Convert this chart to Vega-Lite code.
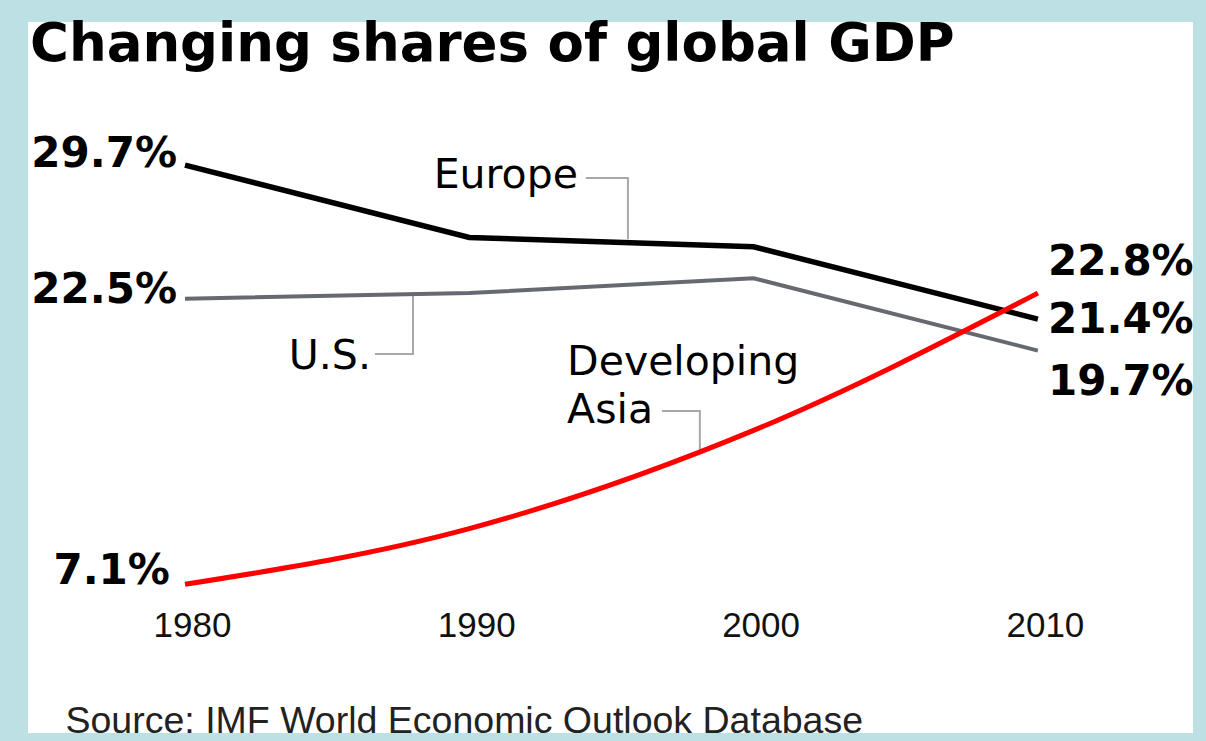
{
  "$schema": "https://vega.github.io/schema/vega-lite/v6.json",
  "width": 1165,
  "height": 711,
  "autosize": {"type": "none"},
  "padding": {"left": 28, "top": 22, "right": 13, "bottom": 8},
  "background": "#bce0e3",
  "config": {"view": {"fill": "white", "stroke": null}},
  "title": {
    "text": "Changing shares of global GDP",
    "anchor": "start",
    "frame": "group",
    "font": "DejaVu Sans",
    "fontWeight": "bold",
    "fontSize": 53,
    "color": "#000000",
    "baseline": "alphabetic",
    "offset": -40,
    "dx": 2,
    "dy": 52
  },
  "datasets": {
    "series": [
      {"region": "Europe", "year": 1980, "share": 29.7},
      {"region": "Europe", "year": 1990, "share": 25.8},
      {"region": "Europe", "year": 2000, "share": 25.3},
      {"region": "Europe", "year": 2010, "share": 21.4},
      {"region": "U.S.", "year": 1980, "share": 22.5},
      {"region": "U.S.", "year": 1990, "share": 22.8},
      {"region": "U.S.", "year": 2000, "share": 23.6},
      {"region": "U.S.", "year": 2010, "share": 19.7},
      {"region": "Developing Asia", "year": 1980, "share": 7.1},
      {"region": "Developing Asia", "year": 1990, "share": 10.1},
      {"region": "Developing Asia", "year": 2000, "share": 15.4},
      {"region": "Developing Asia", "year": 2010, "share": 22.8}
    ],
    "leaders": [
      {"leader": "Europe", "ord": 1, "year": 1994.1, "share": 29.0},
      {"leader": "Europe", "ord": 2, "year": 1995.58, "share": 29.0},
      {"leader": "Europe", "ord": 3, "year": 1995.58, "share": 25.7},
      {"leader": "U.S.", "ord": 1, "year": 1986.68, "share": 19.52},
      {"leader": "U.S.", "ord": 2, "year": 1988.02, "share": 19.52},
      {"leader": "U.S.", "ord": 3, "year": 1988.02, "share": 22.7},
      {"leader": "Asia", "ord": 1, "year": 1996.78, "share": 16.45},
      {"leader": "Asia", "ord": 2, "year": 1998.11, "share": 16.45},
      {"leader": "Asia", "ord": 3, "year": 1998.11, "share": 14.2}
    ],
    "pct": [
      {"label": "29.7%", "side": "left", "year": 1979.72, "share": 29.6},
      {"label": "22.5%", "side": "left", "year": 1979.72, "share": 22.27},
      {"label": "7.1%", "side": "left", "year": 1979.47, "share": 7.12},
      {"label": "22.8%", "side": "right", "year": 2010.355, "share": 23.78},
      {"label": "21.4%", "side": "right", "year": 2010.355, "share": 20.65},
      {"label": "19.7%", "side": "right", "year": 2010.355, "share": 17.31}
    ],
    "names": [
      {"label": "Europe", "side": "right", "year": 1993.82, "share": 28.47},
      {"label": "U.S.", "side": "right", "year": 1986.54, "share": 18.71},
      {"label": "Developing", "side": "left", "year": 1993.44, "share": 18.38},
      {"label": "Asia", "side": "left", "year": 1993.44, "share": 15.8}
    ]
  },
  "encoding": {
    "x": {
      "field": "year",
      "type": "quantitative",
      "scale": {"domain": [1974.478, 2015.456], "nice": false, "zero": false},
      "axis": {
        "values": [1980, 1990, 2000, 2010],
        "format": "d",
        "labelFont": "Liberation Sans",
        "labelFontSize": 35,
        "labelColor": "#111111",
        "labelBaseline": "alphabetic",
        "labelPadding": 0,
        "labelOffset": 7,
        "labelFlush": false,
        "labelOverlap": false,
        "labelBound": false,
        "ticks": false,
        "tickSize": 0,
        "domain": false,
        "grid": false,
        "offset": -97,
        "title": "Source: IMF World Economic Outlook Database",
        "titleFont": "Liberation Sans",
        "titleFontWeight": "normal",
        "titleFontSize": 37.5,
        "titleColor": "#222222",
        "titleAlign": "left",
        "titleAnchor": "start",
        "titleBaseline": "alphabetic",
        "titleX": 37,
        "titleY": 96
      }
    },
    "y": {
      "field": "share",
      "type": "quantitative",
      "scale": {"domain": [-0.915, 37.414], "nice": false, "zero": false},
      "axis": null
    }
  },
  "layer": [
    {
      "data": {"name": "leaders"},
      "mark": {"type": "line", "color": "#a8a8a8", "strokeWidth": 2},
      "encoding": {
        "detail": {"field": "leader"},
        "order": {"field": "ord", "type": "quantitative"}
      }
    },
    {
      "data": {"name": "series"},
      "transform": [{"filter": "datum.region === 'Europe'"}],
      "mark": {"type": "line", "color": "#000000", "strokeWidth": 5.5, "interpolate": "linear"}
    },
    {
      "data": {"name": "series"},
      "transform": [{"filter": "datum.region === 'U.S.'"}],
      "mark": {"type": "line", "color": "#666970", "strokeWidth": 4, "interpolate": "linear"}
    },
    {
      "data": {"name": "series"},
      "transform": [{"filter": "datum.region === 'Developing Asia'"}],
      "mark": {"type": "line", "color": "#ff0000", "strokeWidth": 5, "interpolate": "monotone"}
    },
    {
      "data": {"name": "pct"},
      "transform": [{"filter": "datum.side === 'left'"}],
      "mark": {"type": "text", "align": "right", "baseline": "alphabetic", "font": "DejaVu Sans", "fontWeight": "bold", "fontSize": 42, "color": "#000000"},
      "encoding": {"text": {"field": "label"}}
    },
    {
      "data": {"name": "pct"},
      "transform": [{"filter": "datum.side === 'right'"}],
      "mark": {"type": "text", "align": "left", "baseline": "alphabetic", "font": "DejaVu Sans", "fontWeight": "bold", "fontSize": 42, "color": "#000000"},
      "encoding": {"text": {"field": "label"}}
    },
    {
      "data": {"name": "names"},
      "transform": [{"filter": "datum.side === 'right'"}],
      "mark": {"type": "text", "align": "right", "baseline": "alphabetic", "font": "DejaVu Sans", "fontSize": 41, "color": "#000000"},
      "encoding": {"text": {"field": "label"}}
    },
    {
      "data": {"name": "names"},
      "transform": [{"filter": "datum.side === 'left'"}],
      "mark": {"type": "text", "align": "left", "baseline": "alphabetic", "font": "DejaVu Sans", "fontSize": 41, "color": "#000000"},
      "encoding": {"text": {"field": "label"}}
    }
  ]
}
